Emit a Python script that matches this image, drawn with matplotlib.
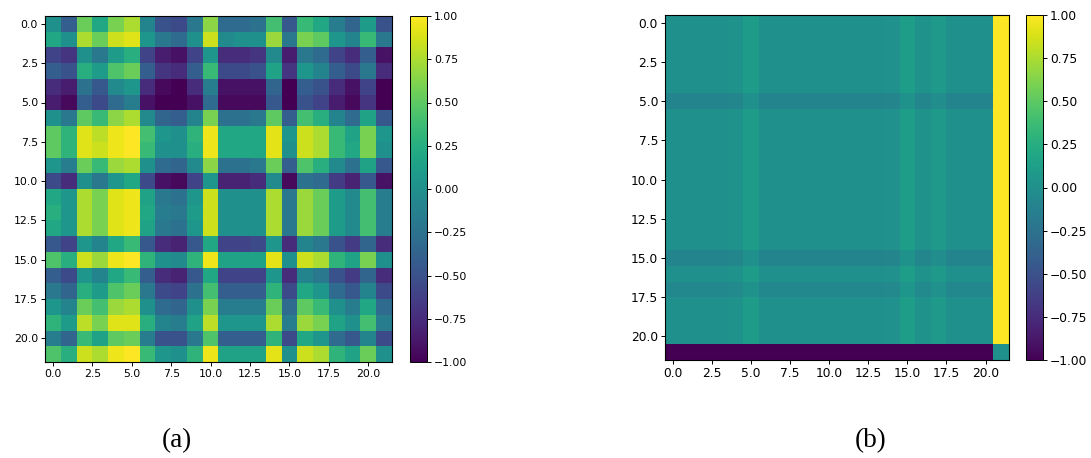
import numpy as np
import matplotlib
matplotlib.use('Agg')
import matplotlib.pyplot as plt

plt.rcParams.update({
    'font.family': ['DejaVu Sans'],
    'font.size': 8,
})

# values, rows 0..21, columns 0..21
panel_a = [
    [0.00, -0.40, 0.55, 0.20, 0.60, 0.75, -0.10, -0.50, -0.55, -0.20, 0.65, -0.30, -0.30, -0.25, 0.40, -0.45, 0.35, 0.20, -0.15, -0.35, 0.10, -0.50],
    [0.20, 0.00, 0.75, 0.55, 0.85, 0.90, 0.05, -0.20, -0.30, 0.00, 0.85, -0.05, 0.00, 0.00, 0.70, -0.20, 0.60, 0.50, 0.05, -0.10, 0.35, -0.20],
    [-0.60, -0.70, 0.00, -0.20, 0.10, 0.25, -0.60, -0.85, -0.90, -0.60, 0.05, -0.75, -0.75, -0.70, -0.05, -0.85, -0.20, -0.30, -0.60, -0.75, -0.40, -0.90],
    [-0.40, -0.50, 0.25, 0.10, 0.45, 0.55, -0.40, -0.70, -0.75, -0.40, 0.35, -0.55, -0.55, -0.50, 0.15, -0.70, 0.05, -0.10, -0.40, -0.55, -0.20, -0.75],
    [-0.75, -0.85, -0.25, -0.45, -0.05, 0.05, -0.75, -0.95, -1.00, -0.75, -0.15, -0.90, -0.90, -0.90, -0.35, -1.00, -0.40, -0.50, -0.75, -0.90, -0.60, -1.00],
    [-0.85, -0.95, -0.40, -0.55, -0.30, -0.15, -0.90, -1.00, -1.00, -0.90, -0.30, -0.95, -0.95, -0.95, -0.45, -1.00, -0.50, -0.60, -0.85, -0.95, -0.70, -1.00],
    [0.00, -0.20, 0.50, 0.35, 0.65, 0.75, -0.05, -0.35, -0.40, -0.10, 0.60, -0.25, -0.25, -0.20, 0.50, -0.40, 0.40, 0.25, -0.10, -0.30, 0.15, -0.45],
    [0.50, 0.30, 0.90, 0.80, 0.95, 1.00, 0.40, 0.05, 0.00, 0.30, 0.95, 0.20, 0.20, 0.20, 0.92, 0.05, 0.85, 0.75, 0.35, 0.15, 0.60, 0.05],
    [0.50, 0.30, 0.90, 0.85, 0.95, 1.00, 0.35, 0.00, 0.00, 0.25, 0.95, 0.20, 0.20, 0.20, 0.92, 0.00, 0.85, 0.75, 0.35, 0.20, 0.60, 0.00],
    [0.05, -0.15, 0.55, 0.35, 0.70, 0.75, 0.00, -0.30, -0.35, -0.05, 0.65, -0.25, -0.25, -0.20, 0.55, -0.40, 0.45, 0.25, -0.05, -0.25, 0.15, -0.45],
    [-0.55, -0.75, 0.00, -0.20, 0.05, 0.20, -0.55, -0.90, -0.95, -0.60, 0.05, -0.80, -0.80, -0.75, -0.05, -0.95, -0.25, -0.30, -0.65, -0.80, -0.45, -0.90],
    [0.20, 0.05, 0.75, 0.60, 0.90, 0.95, 0.15, -0.20, -0.25, 0.05, 0.85, 0.00, 0.00, 0.00, 0.75, -0.20, 0.70, 0.55, 0.10, -0.05, 0.40, -0.15],
    [0.25, 0.05, 0.75, 0.60, 0.90, 0.95, 0.20, -0.15, -0.20, 0.10, 0.85, 0.00, 0.00, 0.00, 0.75, -0.20, 0.70, 0.55, 0.10, -0.05, 0.40, -0.15],
    [0.20, 0.05, 0.75, 0.60, 0.90, 0.95, 0.15, -0.20, -0.25, 0.05, 0.85, 0.00, 0.00, 0.00, 0.75, -0.20, 0.70, 0.55, 0.10, -0.05, 0.40, -0.15],
    [-0.45, -0.60, 0.05, -0.10, 0.20, 0.35, -0.45, -0.75, -0.80, -0.45, 0.20, -0.60, -0.60, -0.55, 0.05, -0.75, -0.10, -0.20, -0.50, -0.65, -0.35, -0.75],
    [0.45, 0.25, 0.85, 0.70, 0.95, 1.00, 0.30, 0.00, -0.05, 0.30, 0.95, 0.15, 0.15, 0.15, 0.92, 0.00, 0.85, 0.75, 0.30, 0.15, 0.60, 0.00],
    [-0.40, -0.55, 0.05, -0.10, 0.20, 0.35, -0.40, -0.75, -0.80, -0.45, 0.20, -0.60, -0.60, -0.60, 0.05, -0.75, -0.10, -0.20, -0.50, -0.65, -0.35, -0.75],
    [-0.20, -0.35, 0.25, 0.10, 0.45, 0.55, -0.20, -0.55, -0.60, -0.25, 0.40, -0.40, -0.40, -0.40, 0.30, -0.55, 0.20, 0.05, -0.30, -0.45, -0.10, -0.55],
    [0.05, -0.10, 0.55, 0.40, 0.70, 0.75, 0.00, -0.30, -0.35, 0.00, 0.60, -0.15, -0.15, -0.15, 0.55, -0.30, 0.50, 0.35, 0.00, -0.15, 0.20, -0.30],
    [0.30, 0.10, 0.80, 0.60, 0.90, 0.90, 0.25, -0.10, -0.15, 0.15, 0.80, 0.05, 0.05, 0.05, 0.75, -0.15, 0.70, 0.60, 0.15, 0.00, 0.40, -0.15],
    [-0.15, -0.35, 0.35, 0.15, 0.50, 0.55, -0.15, -0.50, -0.50, -0.20, 0.45, -0.40, -0.40, -0.40, 0.30, -0.55, 0.20, 0.05, -0.30, -0.45, -0.10, -0.55],
    [0.45, 0.25, 0.85, 0.75, 0.95, 1.00, 0.35, 0.05, 0.00, 0.30, 0.95, 0.15, 0.15, 0.15, 0.92, 0.00, 0.85, 0.75, 0.30, 0.15, 0.55, 0.00],
]

# panel (b): near-zero block, faint stripes, last column ~1, last row ~-1
b_plain = [0.00, 0.00, 0.00, 0.00, 0.02, 0.10, 0.00, 0.00, 0.00, 0.00, 0.00, 0.00, 0.00, 0.00, 0.01, 0.12, 0.02, 0.08, 0.00, 0.00, 0.00, 1.00]
b_dark = [-0.10, -0.10, -0.10, -0.10, -0.08, 0.00, -0.10, -0.10, -0.10, -0.10, -0.10, -0.10, -0.10, -0.10, -0.09, 0.02, -0.08, -0.02, -0.10, -0.10, -0.10, 1.00]
b_mid = [-0.07, -0.07, -0.07, -0.07, -0.05, 0.03, -0.07, -0.07, -0.07, -0.07, -0.07, -0.07, -0.07, -0.07, -0.06, 0.05, -0.05, 0.01, -0.07, -0.07, -0.07, 1.00]
b_last = [-1.00] * 21 + [0.00]
panel_b = [b_plain] * 5 + [b_dark] + [b_plain] * 9 + [b_dark] + [b_plain] + [b_mid] + [b_plain] * 3 + [b_last]

cbar_ticks = [-1.0, -0.75, -0.5, -0.25, 0.0, 0.25, 0.5, 0.75, 1.0]
axis_ticks = [0, 2.5, 5, 7.5, 10, 12.5, 15, 17.5, 20]

W, H = 1091, 458
fig = plt.figure(figsize=(W / 100, H / 100), dpi=100)


def px_axes(x0, y0, x1, y1):
    return fig.add_axes([x0 / W, 1 - y1 / H, (x1 - x0) / W, (y1 - y0) / H])


panels = [
    (np.array(panel_a), (45, 16, 392, 362), (410, 16, 427, 362), '(a)', 177, 7.8),
    (np.array(panel_b), (665, 15, 1009, 360), (1026, 15, 1043, 360), '(b)', 871, 8.8),
]

for data, box, cbox, label, lx, fs in panels:
    ax = px_axes(*box)
    im = ax.imshow(data, cmap='viridis', vmin=-1, vmax=1, aspect='auto',
                   interpolation='nearest')
    ax.set_xticks(axis_ticks)
    ax.set_yticks(axis_ticks)
    ax.set_xticklabels(['%.1f' % t for t in axis_ticks])
    ax.set_yticklabels(['%.1f' % t for t in axis_ticks])
    ax.tick_params(length=3, width=0.7, pad=2, labelsize=fs)
    cax = px_axes(*cbox)
    cb = fig.colorbar(im, cax=cax, ticks=cbar_ticks)
    cb.ax.set_yticklabels(['%.2f' % t if t >= 0 else '\u2212%.2f' % -t for t in cbar_ticks])
    cb.ax.tick_params(length=3, width=0.7, pad=2, labelsize=fs)
    cb.outline.set_linewidth(0.7)
    fig.text(lx / W, 1 - 441 / H, label, ha='center', va='center',
             fontsize=19.5, family=['Liberation Serif'])

fig.savefig('out.png', dpi=100, facecolor='white')
